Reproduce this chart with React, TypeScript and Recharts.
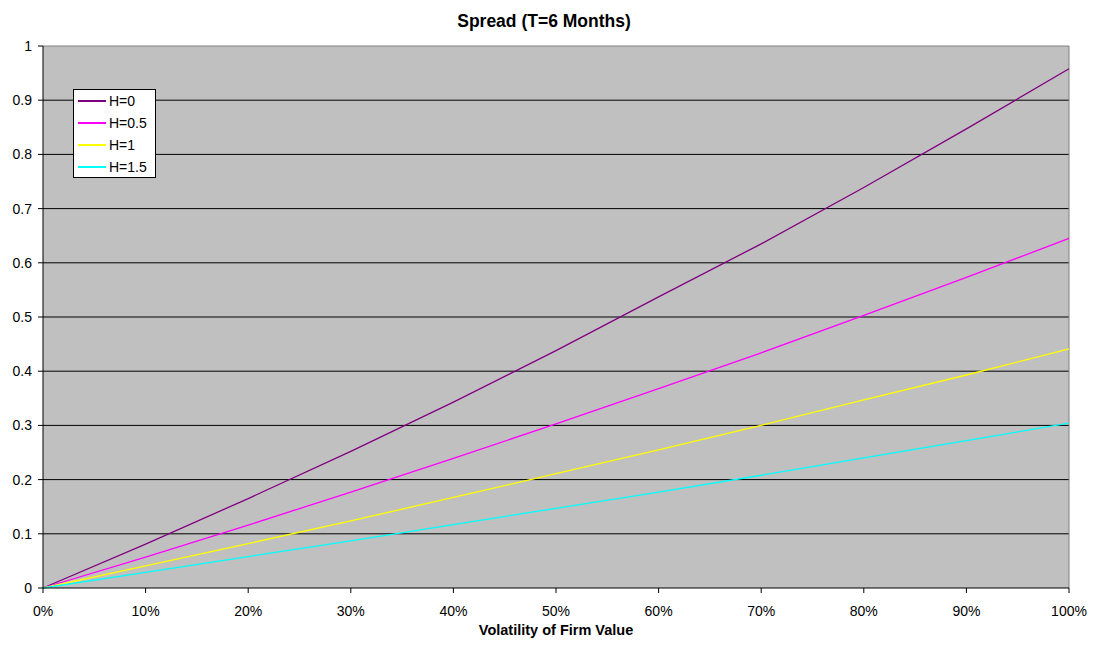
import React from 'react';
import { LineChart, Line, XAxis, YAxis, CartesianGrid, ReferenceLine } from 'recharts';

// volatility of firm value (fraction)
const volatility = [0, 0.1, 0.2, 0.3, 0.4, 0.5, 0.6, 0.7, 0.8, 0.9, 1];

// spread per barrier level H
const spreadH0 = [0, 0.081, 0.165, 0.252, 0.343, 0.438, 0.537, 0.635, 0.739, 0.847, 0.958];
const spreadH05 = [0, 0.057, 0.116, 0.177, 0.239, 0.303, 0.368, 0.434, 0.503, 0.573, 0.645];
const spreadH1 = [0, 0.041, 0.082, 0.124, 0.167, 0.211, 0.255, 0.3, 0.347, 0.393, 0.441];
const spreadH15 = [0, 0.029, 0.058, 0.087, 0.117, 0.147, 0.177, 0.208, 0.24, 0.272, 0.304];

const xTicks = [0, 0.1, 0.2, 0.3, 0.4, 0.5, 0.6, 0.7, 0.8, 0.9, 1];
const yTicks = [0, 0.1, 0.2, 0.3, 0.4, 0.5, 0.6, 0.7, 0.8, 0.9, 1];
const gridValues = [0.1, 0.2, 0.3, 0.4, 0.5, 0.6, 0.7, 0.8, 0.9];

const series = [
    { key: 'h0', name: 'H=0', color: '#800080' },
    { key: 'h05', name: 'H=0.5', color: '#FF00FF' },
    { key: 'h1', name: 'H=1', color: '#FFFF00' },
    { key: 'h15', name: 'H=1.5', color: '#00FFFF' },
];

const data = volatility.map((v, i) => ({
    vol: v,
    h0: spreadH0[i],
    h05: spreadH05[i],
    h1: spreadH1[i],
    h15: spreadH15[i],
}));

const FONT = '"Liberation Sans", Arial, sans-serif';
const tickStyle = { fill: '#000', fontSize: 14, fontFamily: FONT };

const App: React.FC = () => {
    return (
        <div style={{ position: 'absolute', left: 0, top: 0, width: 1096, height: 646, background: '#fff', fontFamily: FONT }}>
            <div
                style={{
                    position: 'absolute', left: 0, top: 13, width: 1088, textAlign: 'center',
                    fontSize: 17.5, fontWeight: 'bold', lineHeight: 1, color: '#000',
                }}
            >
                Spread (T=6 Months)
            </div>
            <LineChart
                width={1096}
                height={646}
                data={data}
                margin={{ top: 46, right: 27, bottom: 0, left: 0 }}
            >
                <CartesianGrid
                    vertical={false}
                    horizontalValues={gridValues}
                    stroke="#000"
                    fill="#C0C0C0"
                    fillOpacity={1}
                />
                <XAxis
                    dataKey="vol"
                    type="number"
                    domain={[0, 1]}
                    ticks={xTicks}
                    tickFormatter={(v: number) => `${Math.round(v * 100)}%`}
                    height={58}
                    tick={tickStyle}
                    tickSize={5}
                    tickMargin={13}
                    axisLine={{ stroke: '#000' }}
                    tickLine={{ stroke: '#000' }}
                    interval={0}
                    label={{
                        value: 'Volatility of Firm Value', position: 'insideBottom', offset: 11,
                        style: { fill: '#000', fontSize: 14.5, fontWeight: 'bold', fontFamily: FONT },
                    }}
                />
                <YAxis
                    type="number"
                    domain={[0, 1]}
                    ticks={yTicks}
                    width={43}
                    tick={tickStyle}
                    tickSize={5}
                    tickMargin={6}
                    axisLine={{ stroke: '#000' }}
                    tickLine={{ stroke: '#000' }}
                    interval={0}
                />
                <ReferenceLine y={1} stroke="#808080" />
                <ReferenceLine x={1} stroke="#808080" />
                {series.map((s) => (
                    <Line
                        key={s.key}
                        type="linear"
                        dataKey={s.key}
                        name={s.name}
                        stroke={s.color}
                        strokeWidth={1.3}
                        dot={false}
                        isAnimationActive={false}
                    />
                ))}
            </LineChart>
            <div
                style={{
                    position: 'absolute', left: 73, top: 89, width: 81, height: 87,
                    border: '1px solid #000', background: '#fff',
                }}
            >
                {series.map((s) => (
                    <div key={s.key} style={{ display: 'flex', alignItems: 'center', height: 22, paddingLeft: 4 }}>
                        <div style={{ width: 28, height: 2, background: s.color }} />
                        <span style={{ marginLeft: 3, fontSize: 14, color: '#000', lineHeight: '22px' }}>{s.name}</span>
                    </div>
                ))}
            </div>
        </div>
    );
};

export default App;
